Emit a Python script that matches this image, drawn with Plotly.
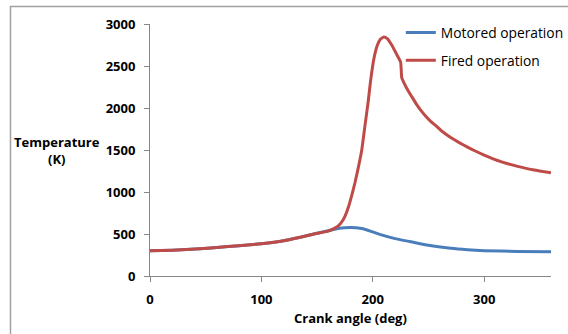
import plotly.graph_objects as go

fired_deg = [0, 20, 45, 70, 100, 120, 135, 150, 160, 165, 169, 172, 175, 178, 181, 184, 187, 190, 193, 196, 198, 201, 204, 207, 210, 213, 217, 221, 225, 226, 228, 232, 235, 239, 243, 248, 252, 257, 261, 266, 270, 278, 285, 292, 300, 315, 330, 345, 360]
fired_T = [300, 308, 325, 350, 385, 420, 462, 508, 535, 565, 595, 640, 710, 815, 955, 1110, 1290, 1490, 1790, 2090, 2320, 2586, 2744, 2820, 2846, 2825, 2750, 2650, 2546, 2360, 2300, 2200, 2135, 2050, 1975, 1895, 1840, 1785, 1735, 1685, 1648, 1585, 1535, 1488, 1440, 1362, 1305, 1262, 1228]

motored_deg = [0, 20, 45, 70, 100, 120, 135, 150, 162, 170, 180, 190, 200, 207, 220, 234, 250, 270, 285, 300, 330, 360]
motored_T = [300, 308, 325, 350, 385, 420, 462, 508, 545, 568, 578, 565, 525, 492, 445, 408, 365, 330, 313, 302, 292, 290]

x_ticks = [0, 100, 200, 300]
y_ticks = [0, 500, 1000, 1500, 2000, 2500, 3000]

FONT = "Open Sans"
AXC = "#868686"
fig = go.Figure()
fig.add_trace(go.Scatter(x=motored_deg, y=motored_T, mode="lines", name="Motored operation",
                         legendgroup="m",
                         line=dict(color="#4A7EBB", width=3, shape="spline", smoothing=0.6)))
fig.add_trace(go.Scatter(x=fired_deg, y=fired_T, mode="lines", name="Fired operation",
                         legendgroup="f",
                         line=dict(color="#BE4B48", width=3, shape="spline", smoothing=0.4)))

fig.update_layout(
    width=568, height=334,
    margin=dict(l=150, r=17, t=24, b=58, autoexpand=False),
    paper_bgcolor="white", plot_bgcolor="white",
    font=dict(family=FONT, size=12, color="black"),
    legend=dict(x=0.6255, y=1.028, xanchor="left", yanchor="top", bgcolor="rgba(0,0,0,0)",
                font=dict(family=FONT, size=13.8), traceorder="grouped", tracegroupgap=7,
                itemwidth=30),
    xaxis=dict(range=[0, 360], tickvals=x_ticks, showgrid=False, zeroline=False,
               showline=True, linecolor=AXC, linewidth=1, ticks="outside",
               tickcolor=AXC, ticklen=5, ticklabelstandoff=6,
               tickfont=dict(family=FONT, size=13, weight="bold")),
    yaxis=dict(range=[0, 3000], tickvals=y_ticks, showgrid=False, zeroline=False,
               showline=True, linecolor=AXC, linewidth=1, ticks="outside",
               tickcolor=AXC, ticklen=5, ticklabelstandoff=6,
               tickfont=dict(family=FONT, size=13, weight="bold")),
    showlegend=True,
)
fig.add_annotation(text="Temperature<br>(K)", xref="paper", yref="paper",
                   x=(57 - 150) / 401, y=(276 - 150) / 252, xanchor="center", yanchor="middle",
                   showarrow=False, font=dict(family=FONT, size=13, weight="bold"), align="center")
fig.add_annotation(text="Crank angle (deg)", xref="paper", yref="paper",
                   x=(350 - 150) / 401, y=(276 - 318) / 252, xanchor="center", yanchor="middle",
                   showarrow=False, font=dict(family=FONT, size=13, weight="bold"))
fig.add_shape(type="rect", xref="paper", yref="paper",
              x0=(10.5 - 150) / 401, x1=1.2, y0=-0.5, y1=(276 - 6.5) / 252,
              line=dict(color="#A0A0A0", width=1.5), fillcolor="rgba(0,0,0,0)", layer="below")

fig.write_html("out.html")
